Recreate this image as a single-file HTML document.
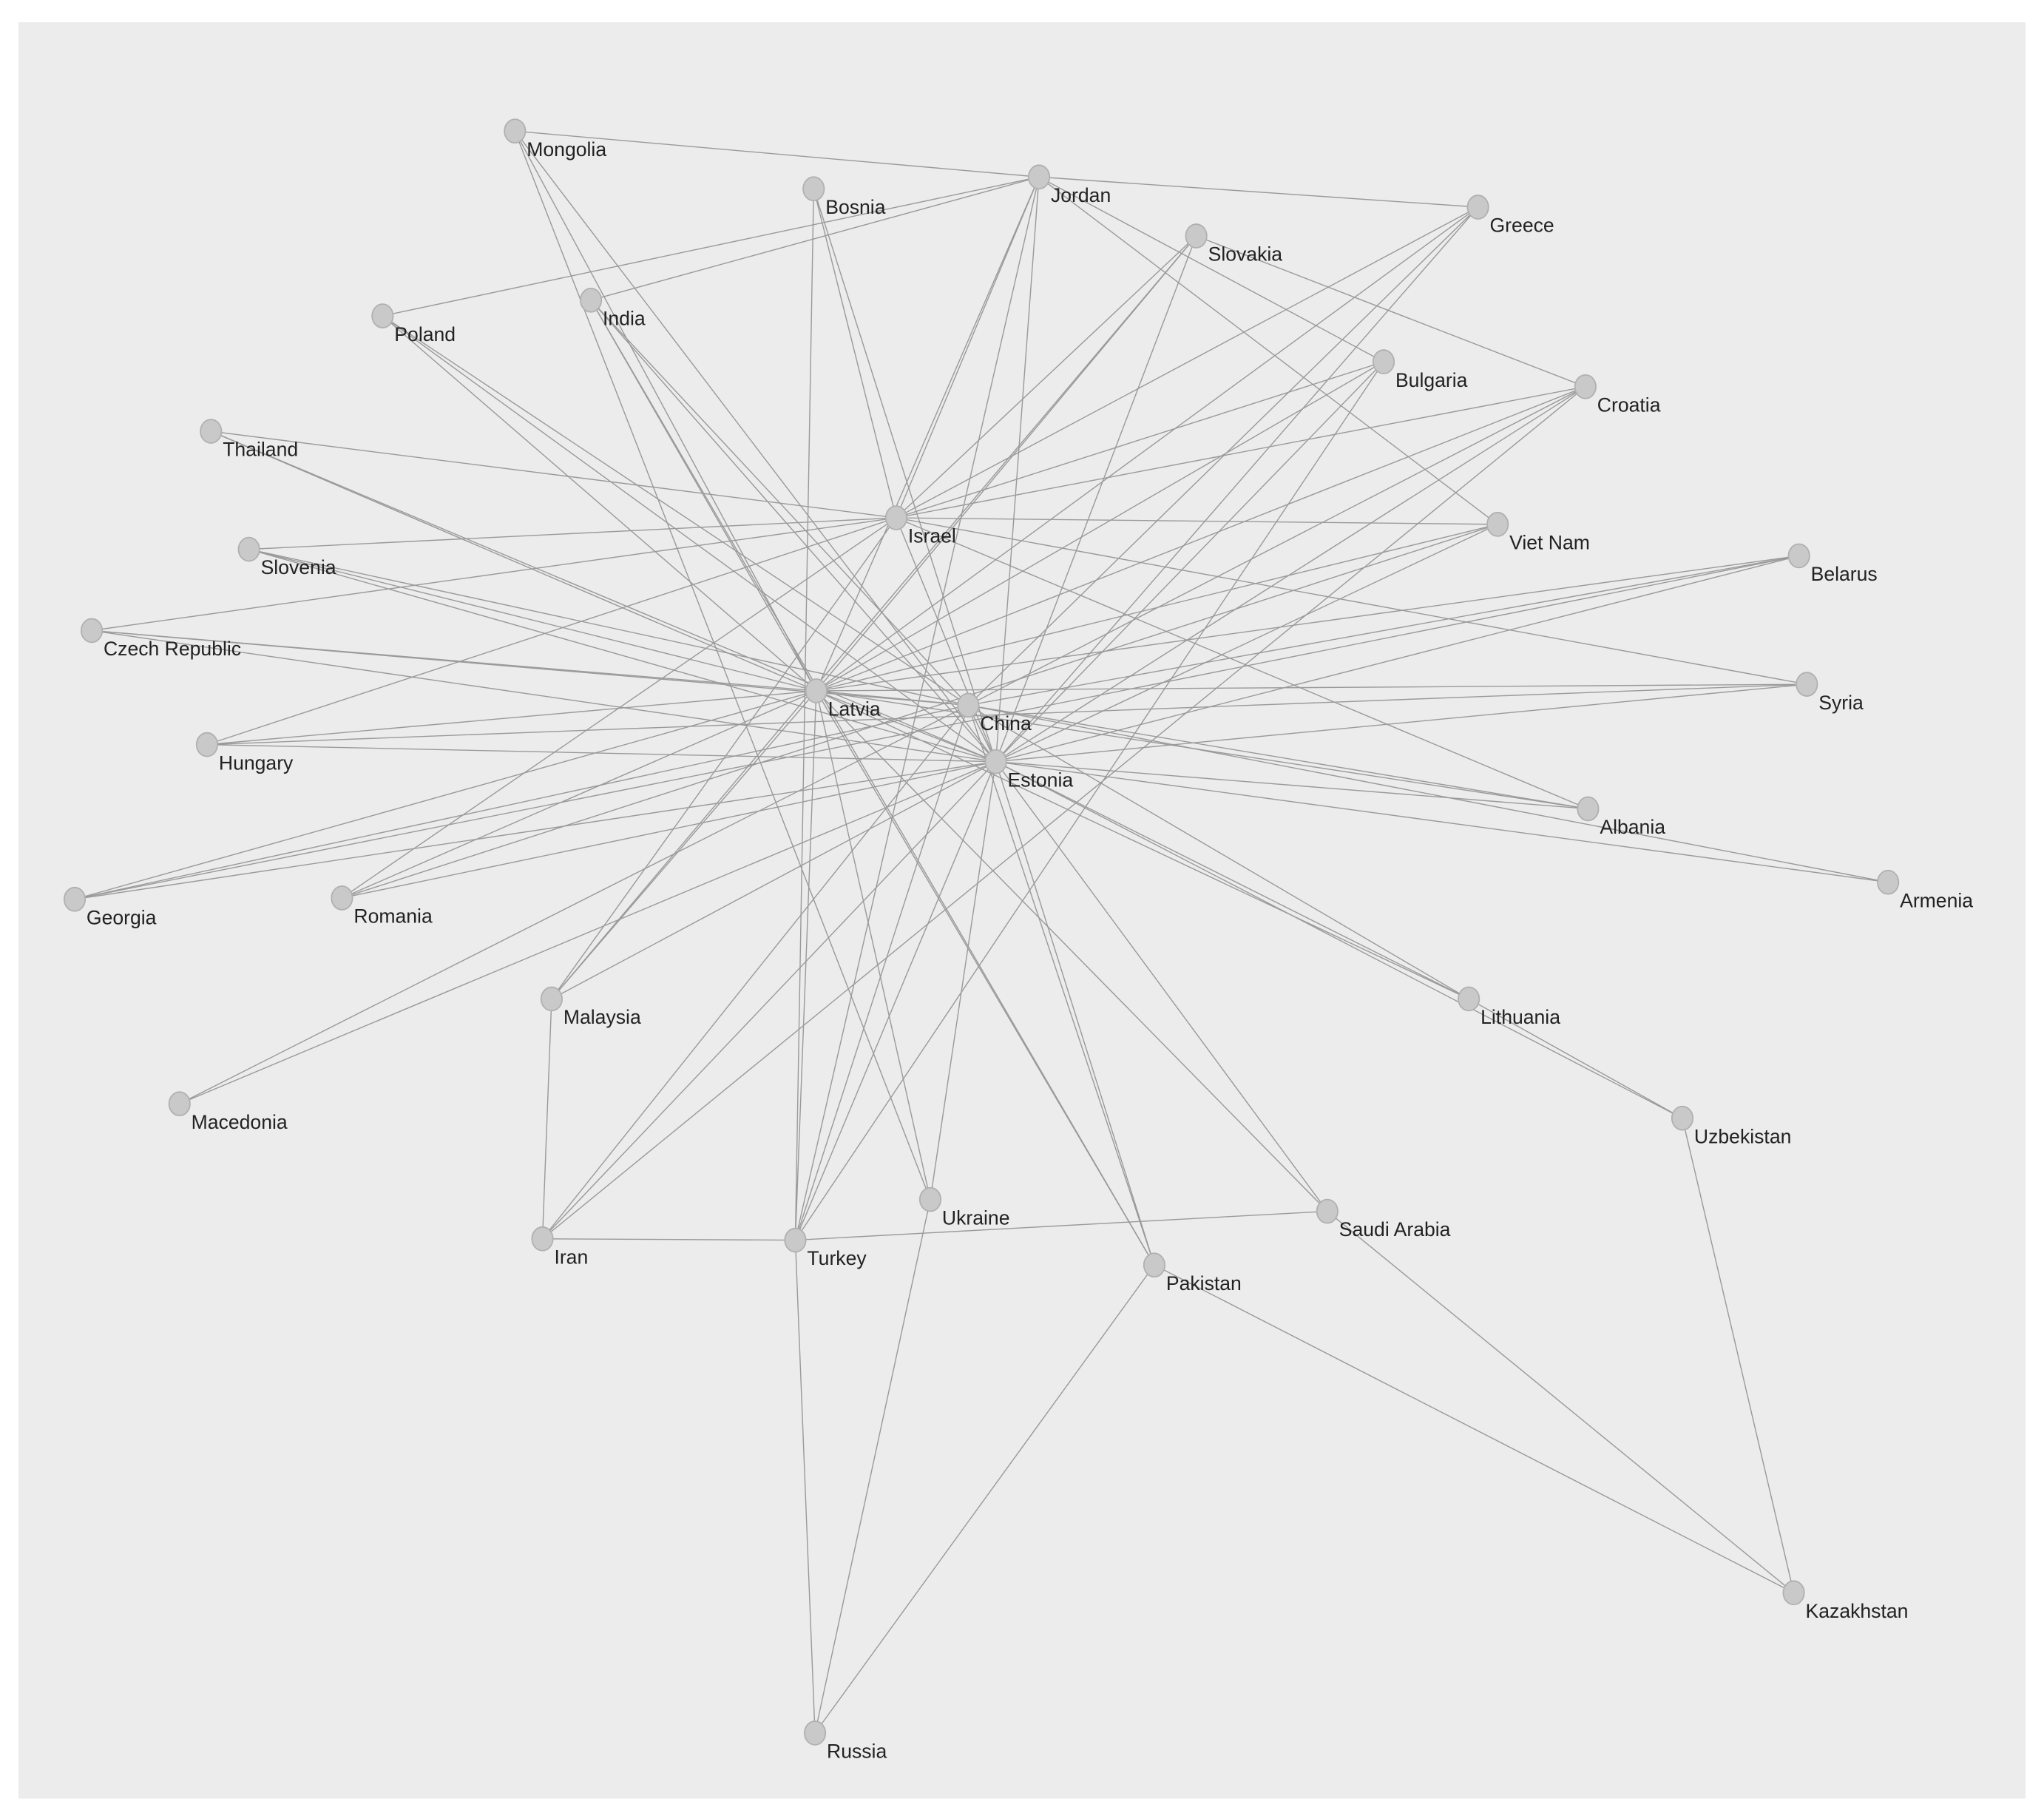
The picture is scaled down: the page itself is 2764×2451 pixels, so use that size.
<!DOCTYPE html>
<html><head><meta charset="utf-8"><style>
html,body{margin:0;padding:0;background:#fff;}
svg{display:block;}
text{font-family:"Liberation Sans",sans-serif;font-size:15px;fill:#222;}
</style></head><body>
<svg width="2764" height="2451" viewBox="0 0 1560 1383" preserveAspectRatio="none" xmlns="http://www.w3.org/2000/svg">
<rect x="14" y="17" width="1532" height="1355" fill="#ececec"/>
<g id="edges" stroke="#9a9a9a" stroke-width="0.8" fill="none"></g>
<g id="nodes"></g>
<script>
var N={Mongolia:[393,100],Jordan:[793,135],Bosnia:[621,144],Greece:[1128,158],Slovakia:[913,180],Poland:[292,241],India:[451,229],Bulgaria:[1056,276],Croatia:[1210,295],Thailand:[161,329],Israel:[684,395],"Viet Nam":[1143,400],Slovenia:[190,419],Belarus:[1373,424],"Czech Republic":[70,481],Latvia:[623,527],China:[739,538],Syria:[1379,522],Estonia:[760,581],Hungary:[158,568],Albania:[1212,617],Armenia:[1441,673],Georgia:[57,686],Romania:[261,685],Malaysia:[421,762],Lithuania:[1121,762],Macedonia:[137,842],Uzbekistan:[1284,853],Ukraine:[710,915],"Saudi Arabia":[1013,924],Iran:[414,945],Turkey:[607,946],Pakistan:[881,965],Kazakhstan:[1369,1215],Russia:[622,1322]};
var E=[["Mongolia","Jordan"],["Jordan","Greece"],["Jordan","Poland"],["Jordan","India"],["Jordan","Bulgaria"],["Jordan","Viet Nam"],["Jordan","Latvia"],["Jordan","Estonia"],["Jordan","Israel"],["Jordan","Turkey"],["Slovakia","Croatia"],["Mongolia","Latvia"],["Mongolia","Ukraine"],["Bosnia","Turkey"],["Bosnia","Estonia"],["Bosnia","Israel"],["Greece","Israel"],["Greece","Latvia"],["Greece","China"],["Greece","Estonia"],["Slovakia","Israel"],["Slovakia","Latvia"],["Slovakia","Estonia"],["Slovakia","Malaysia"],["Poland","Latvia"],["Poland","Estonia"],["India","Latvia"],["India","Estonia"],["India","China"],["India","Pakistan"],["Bulgaria","Israel"],["Bulgaria","Latvia"],["Bulgaria","Estonia"],["Bulgaria","Turkey"],["Croatia","Israel"],["Croatia","Latvia"],["Croatia","China"],["Croatia","Estonia"],["Croatia","Iran"],["Thailand","Israel"],["Thailand","Latvia"],["Thailand","Estonia"],["Israel","Viet Nam"],["Israel","Slovenia"],["Israel","Czech Republic"],["Israel","Syria"],["Israel","Hungary"],["Israel","Romania"],["Israel","Malaysia"],["Israel","Albania"],["Israel","Estonia"],["Viet Nam","Latvia"],["Viet Nam","Estonia"],["Viet Nam","Romania"],["Slovenia","Latvia"],["Slovenia","Estonia"],["Slovenia","China"],["Belarus","Latvia"],["Belarus","China"],["Belarus","Estonia"],["Belarus","Georgia"],["Czech Republic","Latvia"],["Czech Republic","Estonia"],["Czech Republic","China"],["Syria","Latvia"],["Syria","Estonia"],["Syria","Hungary"],["Hungary","Latvia"],["Hungary","Estonia"],["Albania","Latvia"],["Albania","China"],["Albania","Estonia"],["Armenia","Estonia"],["Armenia","China"],["Georgia","Latvia"],["Georgia","Estonia"],["Georgia","China"],["Romania","Latvia"],["Romania","Estonia"],["Malaysia","Latvia"],["Malaysia","Estonia"],["Malaysia","Iran"],["Lithuania","Latvia"],["Lithuania","China"],["Lithuania","Estonia"],["Lithuania","Uzbekistan"],["Macedonia","Estonia"],["Macedonia","China"],["Uzbekistan","Estonia"],["Uzbekistan","Kazakhstan"],["Ukraine","Latvia"],["Ukraine","Estonia"],["Ukraine","Russia"],["Saudi Arabia","Latvia"],["Saudi Arabia","Estonia"],["Saudi Arabia","Turkey"],["Saudi Arabia","Kazakhstan"],["Iran","Turkey"],["Iran","Estonia"],["Iran","China"],["Turkey","Latvia"],["Turkey","China"],["Turkey","Estonia"],["Turkey","Russia"],["Pakistan","Latvia"],["Pakistan","Estonia"],["Pakistan","China"],["Pakistan","Russia"],["Pakistan","Kazakhstan"],["Latvia","China"],["Latvia","Estonia"],["China","Estonia"],["Mongolia","Estonia"],["Poland","China"]];
var ns="http://www.w3.org/2000/svg",ge=document.getElementById("edges"),gn=document.getElementById("nodes");
E.forEach(function(e){var a=N[e[0]],b=N[e[1]],l=document.createElementNS(ns,"line");l.setAttribute("x1",a[0]);l.setAttribute("y1",a[1]);l.setAttribute("x2",b[0]);l.setAttribute("y2",b[1]);ge.appendChild(l);});
for(var k in N){var p=N[k],c=document.createElementNS(ns,"ellipse");c.setAttribute("cx",p[0]);c.setAttribute("cy",p[1]);c.setAttribute("rx",8);c.setAttribute("ry",9);c.setAttribute("fill","#c9c9c9");c.setAttribute("stroke","#b0b0b0");gn.appendChild(c);var t=document.createElementNS(ns,"text");t.setAttribute("x",p[0]+9);t.setAttribute("y",p[1]+19);t.textContent=k;gn.appendChild(t);}
</script>
</svg>
</body></html>
